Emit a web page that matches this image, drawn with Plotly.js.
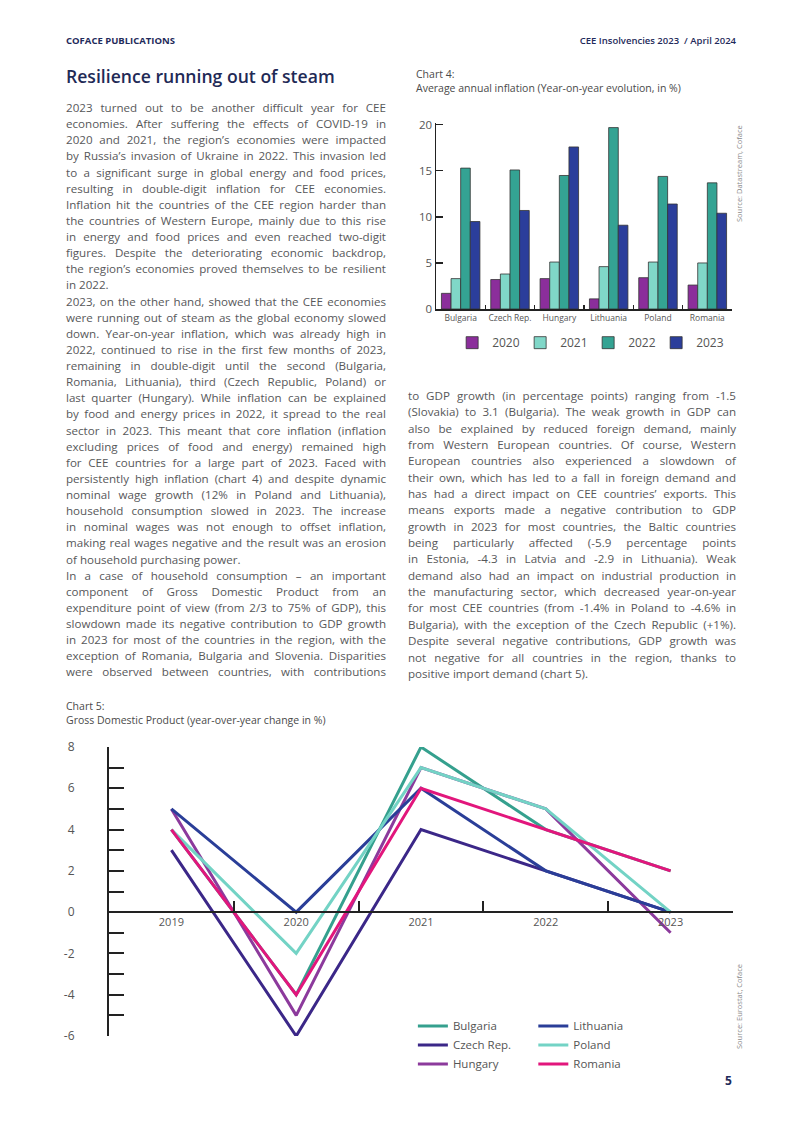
<!DOCTYPE html>
<html><head><meta charset="utf-8">
<script src="https://cdn.plot.ly/plotly-3.0.1.min.js"></script>
<style>
body{margin:0;width:802px;height:1133px;position:relative;background:#fff;font-family:'Open Sans',sans-serif;overflow:hidden}
.abs{position:absolute;white-space:nowrap}
.hdr{font-size:9.5px;font-weight:700;color:#1f2b5b;top:34px}
.col{position:absolute;font-size:11.6px;color:#57585a}
.col div{text-align:justify;text-align-last:justify;white-space:nowrap;height:16.14px;line-height:16.14px}
.col div.e{text-align-last:left}
#colR div{height:16.35px;line-height:16.35px}
.ct{font-size:10.5px;color:#4a4a4a;line-height:14px}
.src{font-size:7.5px;color:#8a8a8a;transform-origin:0 0;transform:rotate(-90deg)}
</style></head>
<body>
<div class="abs hdr" style="left:66px">COFACE PUBLICATIONS</div>
<div class="abs hdr" style="right:66px;font-weight:600">CEE Insolvencies 2023&nbsp; / April 2024</div>
<div class="abs" style="left:66px;top:64px;font-size:17.6px;font-weight:600;color:#1f2a56">Resilience running out of steam</div>

<div class="col" id="colL" style="left:66px;top:100px;width:320px">
<div>2023 turned out to be another difficult year for CEE</div>
<div>economies. After suffering the effects of COVID-19 in</div>
<div>2020 and 2021, the region’s economies were impacted</div>
<div>by Russia’s invasion of Ukraine in 2022. This invasion led</div>
<div>to a significant surge in global energy and food prices,</div>
<div>resulting in double-digit inflation for CEE economies.</div>
<div>Inflation hit the countries of the CEE region harder than</div>
<div>the countries of Western Europe, mainly due to this rise</div>
<div>in energy and food prices and even reached two-digit</div>
<div>figures. Despite the deteriorating economic backdrop,</div>
<div>the region’s economies proved themselves to be resilient</div>
<div class="e">in 2022.</div>
<div>2023, on the other hand, showed that the CEE economies</div>
<div>were running out of steam as the global economy slowed</div>
<div>down. Year-on-year inflation, which was already high in</div>
<div>2022, continued to rise in the first few months of 2023,</div>
<div>remaining in double-digit until the second (Bulgaria,</div>
<div>Romania, Lithuania), third (Czech Republic, Poland) or</div>
<div>last quarter (Hungary). While inflation can be explained</div>
<div>by food and energy prices in 2022, it spread to the real</div>
<div>sector in 2023. This meant that core inflation (inflation</div>
<div>excluding prices of food and energy) remained high</div>
<div>for CEE countries for a large part of 2023. Faced with</div>
<div>persistently high inflation (chart 4) and despite dynamic</div>
<div>nominal wage growth (12% in Poland and Lithuania),</div>
<div>household consumption slowed in 2023. The increase</div>
<div>in nominal wages was not enough to offset inflation,</div>
<div>making real wages negative and the result was an erosion</div>
<div class="e">of household purchasing power.</div>
<div>In a case of household consumption – an important</div>
<div>component of Gross Domestic Product from an</div>
<div>expenditure point of view (from 2/3 to 75% of GDP), this</div>
<div>slowdown made its negative contribution to GDP growth</div>
<div>in 2023 for most of the countries in the region, with the</div>
<div>exception of Romania, Bulgaria and Slovenia. Disparities</div>
<div>were observed between countries, with contributions</div>
</div>

<div class="col" id="colR" style="left:408px;top:388px;width:328px">
<div>to GDP growth (in percentage points) ranging from -1.5</div>
<div>(Slovakia) to 3.1 (Bulgaria). The weak growth in GDP can</div>
<div>also be explained by reduced foreign demand, mainly</div>
<div>from Western European countries. Of course, Western</div>
<div>European countries also experienced a slowdown of</div>
<div>their own, which has led to a fall in foreign demand and</div>
<div>has had a direct impact on CEE countries’ exports. This</div>
<div>means exports made a negative contribution to GDP</div>
<div>growth in 2023 for most countries, the Baltic countries</div>
<div>being particularly affected (-5.9 percentage points</div>
<div>in Estonia, -4.3 in Latvia and -2.9 in Lithuania). Weak</div>
<div>demand also had an impact on industrial production in</div>
<div>the manufacturing sector, which decreased year-on-year</div>
<div>for most CEE countries (from -1.4% in Poland to -4.6% in</div>
<div>Bulgaria), with the exception of the Czech Republic (+1%).</div>
<div>Despite several negative contributions, GDP growth was</div>
<div>not negative for all countries in the region, thanks to</div>
<div class="e">positive import demand (chart 5).</div>
</div>

<div class="abs ct" style="left:416px;top:67px">Chart 4:<br>Average annual inflation (Year-on-year evolution, in %)</div>
<div class="abs ct" style="left:66px;top:699px">Chart 5:<br>Gross Domestic Product (year-over-year change in %)</div>
<div class="abs src" style="left:734px;top:222px">Source: Datastream, Coface</div>
<div class="abs src" style="left:734px;top:1049px">Source: Eurostat, Coface</div>
<div class="abs" style="left:725px;top:1072px;font-size:12px;font-weight:700;color:#1f2b5b">5</div>

<div id="c4" style="position:absolute;left:400px;top:100px;width:345px;height:265px"></div>
<div id="c5" style="position:absolute;left:50px;top:735px;width:700px;height:360px"></div>

<script>
// Chart 4 data
const countries = ['Bulgaria','Czech Rep.','Hungary','Lithuania','Poland','Romania'];
const inflYears = ['2020','2021','2022','2023'];
const infl2020 = [1.7, 3.2, 3.3, 1.1, 3.4, 2.6];
const infl2021 = [3.3, 3.8, 5.1, 4.6, 5.1, 5.0];
const infl2022 = [15.3, 15.1, 14.5, 19.7, 14.4, 13.7];
const infl2023 = [9.5, 10.7, 17.6, 9.1, 11.4, 10.4];

// Chart 5 data
const years = ['2019','2020','2021','2022','2023'];
const gdpNames = ['Bulgaria','Czech Rep.','Hungary','Lithuania','Poland','Romania'];
const gdpBulgaria = [4, -4, 8, 4, 2];
const gdpCzech = [3, -6, 4, 2, 0];
const gdpHungary = [5, -5, 7, 5, -1];
const gdpLithuania = [5, 0, 6, 2, 0];
const gdpPoland = [4, -2, 7, 5, 0];
const gdpRomania = [4, -4, 6, 4, 2];
const gdpTickVals = [-6, -4, -2, 0, 2, 4, 6, 8];
const gdpTickText = ['-6', '-4', '-2', '0', '2', '4', '6', '8'];

const barColors = ['#8b2e9b','#80d7c8','#34a393','#2b3e9b'];
const lineColors = ['#35a08e','#3b2788','#8c3a9c','#2a3e98','#73d3c5','#e2167c'];
const tickGray = '#555';
const fam = "'Open Sans', sans-serif";

const inflSeries = [infl2020, infl2021, infl2022, infl2023];
const t4 = inflSeries.map((vals, i) => ({
  type: 'bar', name: inflYears[i], x: countries, y: vals,
  marker: {color: barColors[i], line: {color: '#333', width: 0.8}}
}));

const l4 = {
  width: 345, height: 265, margin: {l: 36, r: 13, t: 23, b: 56, autoexpand: false},
  paper_bgcolor: 'rgba(0,0,0,0)', plot_bgcolor: 'rgba(0,0,0,0)',
  font: {family: fam, color: tickGray},
  barmode: 'group', bargap: 0.22, bargroupgap: 0,
  xaxis: {type: 'category', range: [-0.5, 5.5], showline: true, linecolor: '#222', linewidth: 1.5,
    ticks: 'inside', tickson: 'boundaries', ticklen: 4, tickcolor: '#222', tickwidth: 1.2,
    tickangle: 0, automargin: false,
    tickfont: {size: 8.5, color: tickGray}, showgrid: false, zeroline: false},
  yaxis: {range: [0, 20.2], dtick: 5, showline: true, linecolor: '#222', linewidth: 1.5,
    ticks: 'inside', ticklen: 7, tickcolor: '#222', tickwidth: 1.2, automargin: false,
    tickfont: {size: 11.5, color: tickGray}, showgrid: false, zeroline: false},
  showlegend: true,
  legend: {orientation: 'h', x: 0.514, xanchor: 'center', y: -0.103, yanchor: 'top',
    font: {size: 12, color: tickGray}, entrywidth: 23, entrywidthmode: 'pixels', bgcolor: 'rgba(0,0,0,0)'}
};
Plotly.newPlot('c4', t4, l4, {displayModeBar: false, staticPlot: true});

const gdpSeries = [gdpBulgaria, gdpCzech, gdpHungary, gdpLithuania, gdpPoland, gdpRomania];
const t5 = gdpSeries.map((vals, i) => ({
  type: 'scatter', mode: 'lines', name: gdpNames[i], x: years, y: vals,
  line: {color: lineColors[i], width: 3},
  legend: i < 3 ? 'legend' : 'legend2'
}));
const legBase = {font: {size: 11.5, color: tickGray}, bgcolor: 'rgba(0,0,0,0)', xanchor: 'left', yanchor: 'top', tracegroupgap: 0};
const l5 = {
  width: 700, height: 360, margin: {l: 59, r: 17, t: 12, b: 59, autoexpand: false},
  paper_bgcolor: 'rgba(0,0,0,0)', plot_bgcolor: 'rgba(0,0,0,0)',
  font: {family: fam, color: tickGray},
  xaxis: {type: 'category', range: [-0.5, 4.5], anchor: 'free', position: 6/14, automargin: false,
    showline: true, linecolor: '#222', linewidth: 2, ticks: 'inside', tickson: 'boundaries',
    ticklen: 10, tickwidth: 2, tickcolor: '#222', tickfont: {size: 11, color: tickGray},
    showgrid: false, zeroline: false},
  yaxis: {range: [-6, 8], tickmode: 'array', tickvals: gdpTickVals, ticktext: gdpTickText,
    showline: true, linecolor: '#222', linewidth: 2, automargin: false,
    ticks: 'inside', ticklen: 15, tickwidth: 2, tickcolor: '#222', ticklabelstandoff: 30,
    minor: {dtick: 1, ticks: 'inside', ticklen: 15, tickwidth: 2, tickcolor: '#222', showgrid: false},
    tickfont: {size: 12, color: tickGray}, showgrid: false, zeroline: false},
  showlegend: true,
  legend: Object.assign({x: 0.487, y: 0.085}, legBase),
  legend2: Object.assign({x: 0.68, y: 0.085}, legBase)
};
Plotly.newPlot('c5', t5, l5, {displayModeBar: false, staticPlot: true});
</script>
</body></html>
